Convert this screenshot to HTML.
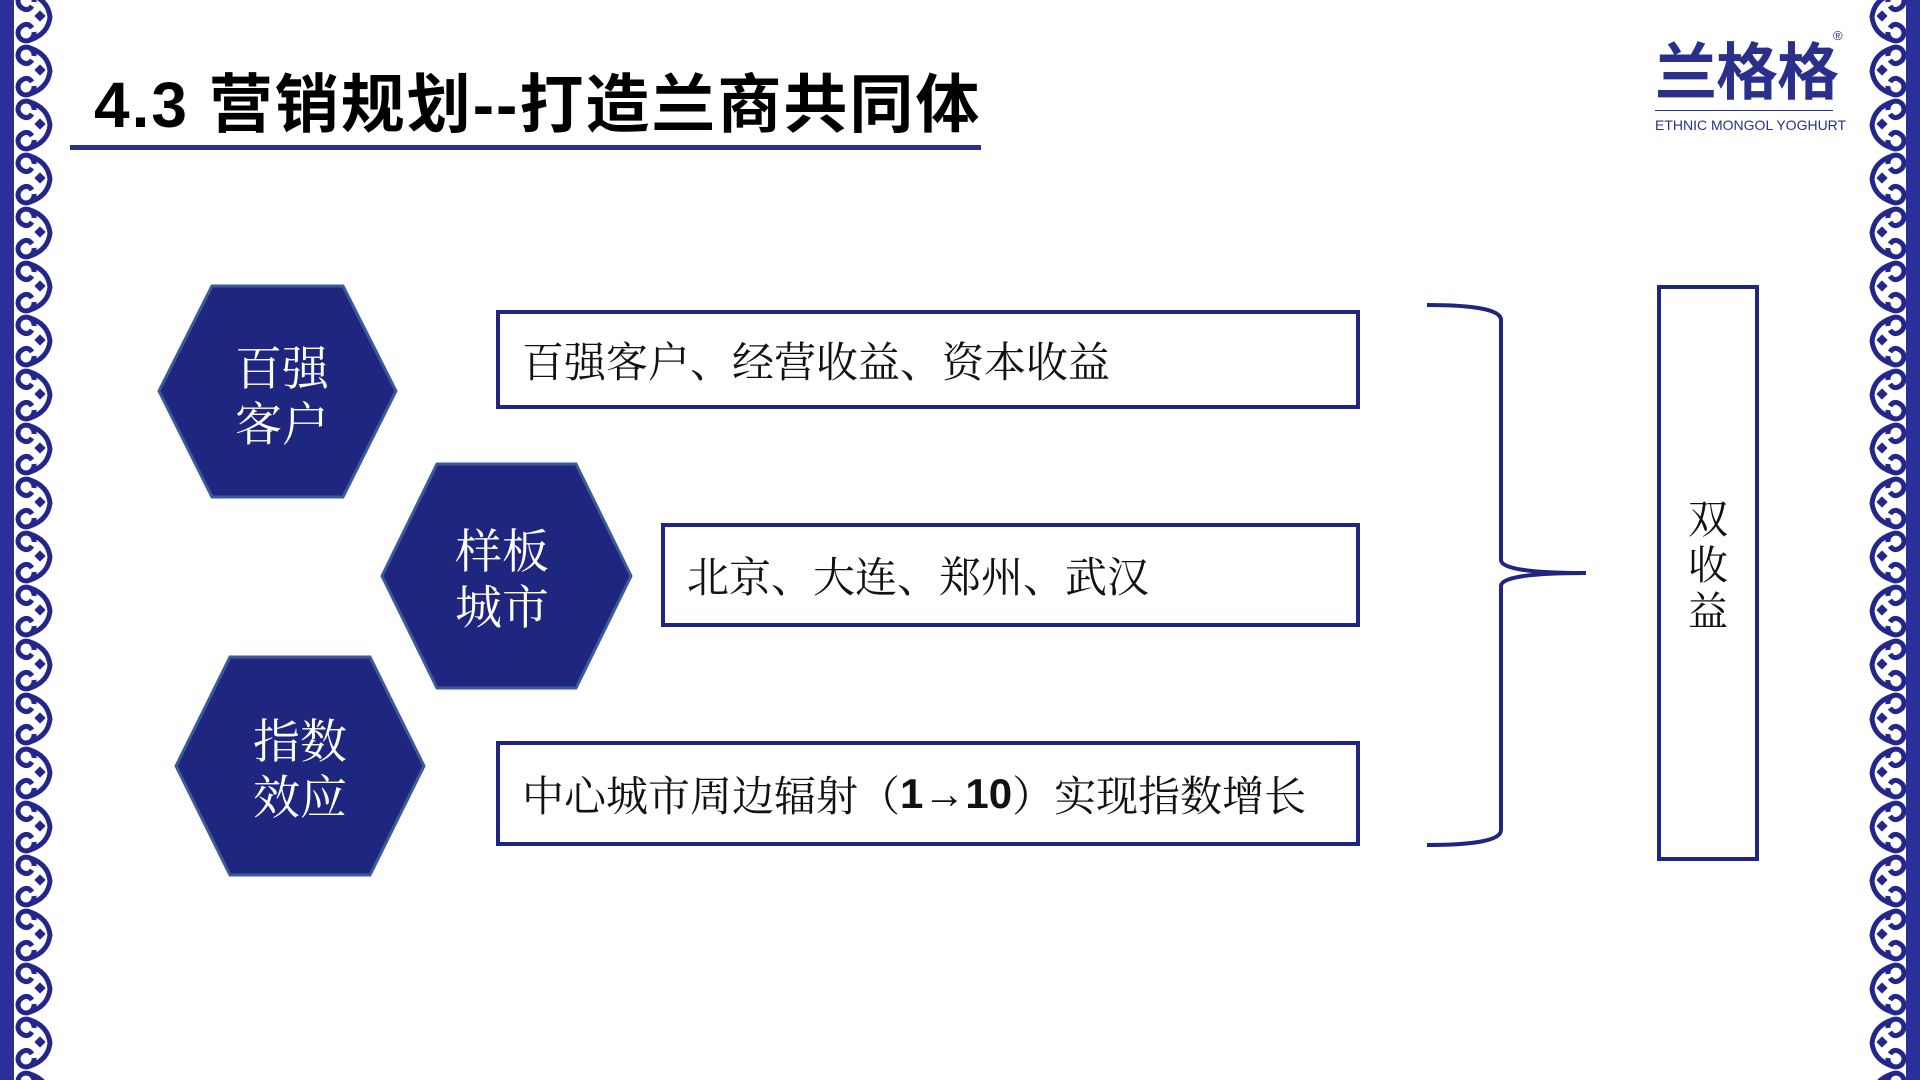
<!DOCTYPE html>
<html><head><meta charset="utf-8"><style>
html,body{margin:0;padding:0;}
body{width:1920px;height:1080px;position:relative;overflow:hidden;background:#fff;font-family:"Liberation Sans","Noto Sans CJK SC",sans-serif;}
.abs{position:absolute;}
.title{left:94px;top:54px;font-size:64px;font-weight:bold;color:#000;white-space:nowrap;letter-spacing:2px;}
.rule{left:70px;top:145px;width:911px;height:5px;background:#2b2f8c;}
.box{border:4px solid #1f2580;box-sizing:border-box;background:#fff;font-family:"Noto Serif CJK SC","WenQuanYi Zen Hei",serif;font-size:42px;color:#111;display:flex;align-items:center;white-space:nowrap;}
.hex{font-family:"Noto Serif CJK SC",serif;color:#fff;font-size:47px;line-height:56px;text-align:center;}
</style></head><body>
<svg class="abs" style="left:0;top:0" width="1920" height="1080">
<defs>
<pattern id="pl" x="0" y="-10" width="60" height="54" patternUnits="userSpaceOnUse">
<g fill="none" stroke="#23268a" stroke-width="5">
<path d="M34 12 a8 8 0 1 0 -12 6 q6 4 10 -2 M34 42 a8 8 0 1 1 -12 -6 q6 -4 10 2"/>
<path d="M30 4 q18 6 20 23 q-2 17 -20 23"/>
</g>
<rect x="36" y="22" width="8" height="8" fill="#23268a" transform="rotate(45 40 26)"/>
</pattern>
<pattern id="pr" x="1866" y="-10" width="60" height="54" patternUnits="userSpaceOnUse">
<g transform="translate(56 0) scale(-1 1)">
<g fill="none" stroke="#23268a" stroke-width="5">
<path d="M34 12 a8 8 0 1 0 -12 6 q6 4 10 -2 M34 42 a8 8 0 1 1 -12 -6 q6 -4 10 2"/>
<path d="M30 4 q18 6 20 23 q-2 17 -20 23"/>
</g>
<rect x="36" y="22" width="8" height="8" fill="#23268a" transform="rotate(45 40 26)"/>
</g>
</pattern>
</defs>
<rect x="0" y="0" width="14" height="1080" fill="#2b2f9a"/>
<rect x="14" y="0" width="44" height="1080" fill="url(#pl)"/>
<rect x="1906" y="0" width="14" height="1080" fill="#2b2f9a"/>
<rect x="1864" y="0" width="42" height="1080" fill="url(#pr)"/>
<g fill="#1f267f" stroke="#3a5a9a" stroke-width="3">
<polygon points="159,391 212,286 343,286 396,391 343,497 212,497"/>
<polygon points="382,576 437,464 576,464 631,576 576,688 437,688"/>
<polygon points="176,766 230,657 370,657 424,766 370,875 230,875"/>
</g>
<path d="M1427 305 Q1501 305 1501 320 L1501 560 Q1501 573 1586 573 Q1501 573 1501 586 L1501 830 Q1501 845 1427 845" fill="none" stroke="#1f2580" stroke-width="4"/>
</svg>
<div class="abs title">4.3 营销规划--打造兰商共同体</div>
<div class="abs rule"></div>
<div class="abs" style="left:1655px;top:26px;width:190px;height:115px;color:#2a2f8c;">
<div style="font-size:62px;font-weight:bold;line-height:82px;letter-spacing:-1px;white-space:nowrap;font-family:'Noto Sans CJK SC',sans-serif;">兰格格</div>
<div style="position:absolute;left:178px;top:2px;font-size:13px;">®</div>
<div style="border-top:1px solid #2a2f8c;margin-top:2px;width:178px;"></div>
<div style="font-size:14px;margin-top:6px;white-space:nowrap;">ETHNIC MONGOL YOGHURT</div>
</div>
<div class="abs hex" style="left:182px;top:338px;width:200px;">百强<br>客户</div>
<div class="abs hex" style="left:402px;top:521px;width:200px;">样板<br>城市</div>
<div class="abs hex" style="left:200px;top:711px;width:200px;">指数<br>效应</div>
<div class="abs box" style="left:496px;top:310px;width:864px;height:99px;padding-left:22px;">百强客户、经营收益、资本收益</div>
<div class="abs box" style="left:661px;top:523px;width:699px;height:104px;padding-left:22px;">北京、大连、郑州、武汉</div>
<div class="abs box" style="left:496px;top:741px;width:864px;height:105px;padding-left:22px;">中心城市周边辐射（<b style="font-family:'Liberation Sans',sans-serif;">1→10</b>）实现指数增长</div>
<div class="abs box" style="left:1657px;top:285px;width:102px;height:576px;justify-content:center;font-size:40px;line-height:46px;text-align:center;white-space:normal;padding-bottom:20px;"><div>双<br>收<br>益</div></div>
</body></html>
